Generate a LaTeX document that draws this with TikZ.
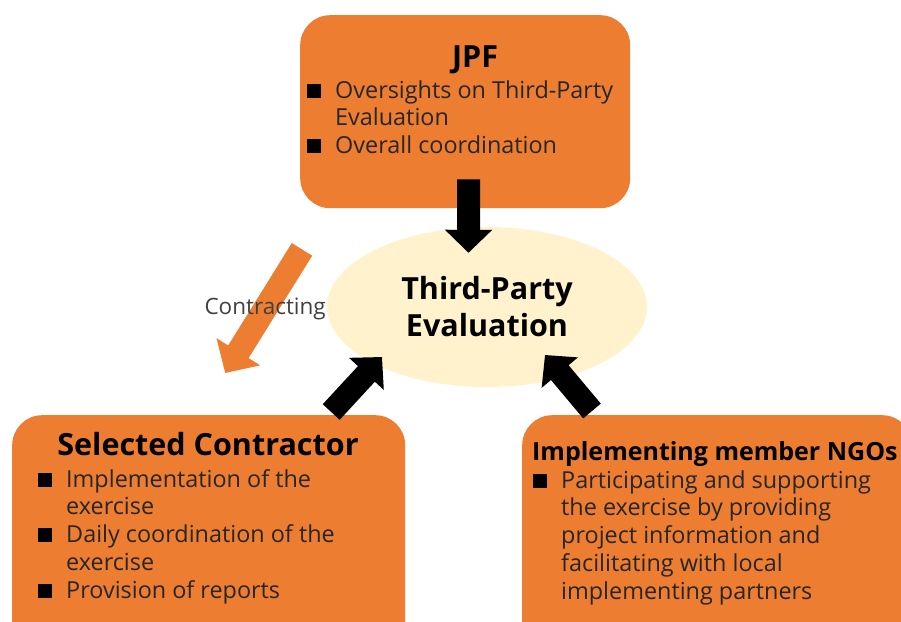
\documentclass[tikz,border=0pt]{standalone}
\usepackage{fontspec}
\setmainfont{Open Sans}
\usetikzlibrary{positioning,shapes.geometric,arrows.meta}

\definecolor{roleorange}{HTML}{ED7D31}
\definecolor{evalcream}{HTML}{FFF2CC}
\definecolor{bodygray}{HTML}{262626}
\definecolor{labelgray}{HTML}{404040}

\newcommand{\sqbullet}{\strut\makebox[28pt][l]{\textcolor{black}{\raisebox{0.5pt}{\rule{14pt}{14pt}}}}}
\newcommand{\sqindent}{\strut\hspace*{28pt}}

\tikzset{
  rolebox/.style={fill=roleorange, rounded corners=30pt, inner sep=0pt, anchor=north west},
  roletitle/.style={font=\bfseries\fontsize{30.5}{36}\selectfont, inner sep=0pt, anchor=base},
  rolelist/.style={font=\fontsize{23.4}{27.8}\selectfont, text=bodygray, align=left, inner sep=0pt, anchor=north west},
  blockarrow/.style={line width=23pt, -{Triangle[length=23pt, width=46pt]}},
  contractarrow/.style={roleorange, line width=24pt, -{Triangle[length=25pt, width=50pt]}}
}

\begin{document}
\begin{tikzpicture}[x=1pt, y=-1pt]
  \path[use as bounding box, clip] (0,0) rectangle (901,621);

  % the three parties
  \node[rolebox, minimum width=330pt, minimum height=193pt] (jpf) at (300,15) {};
  \node[rolebox, minimum width=393pt, minimum height=240pt] (contractor) at (12,415) {};
  \node[rolebox, minimum width=390pt, minimum height=240pt] (ngos) at (522,415) {};

  % the evaluation in the middle
  \node[ellipse, fill=evalcream, minimum width=320pt, minimum height=160pt, inner sep=0pt,
        font=\bfseries\fontsize{30.5}{37}\selectfont, align=center] (eval) at (487,307) {Third-Party\\Evaluation};

  % titles
  \node[roletitle] (jpftitle) at (475,67) {JPF};
  \node[roletitle] (contractortitle) at (208,455) {Selected Contractor};
  \node[roletitle, font=\bfseries\fontsize{25}{28}\selectfont, anchor=base west] (ngostitle) at (532,460) {Implementing member NGOs};

  % tasks
  \node[rolelist] (jpflist) at (307,78.4) {\sqbullet Oversights on Third-Party\\
    \sqindent Evaluation\\
    \sqbullet Overall coordination};
  \node[rolelist] (contractorlist) at (38,467.4) {\sqbullet Implementation of the\\
    \sqindent exercise\\
    \sqbullet Daily coordination of the\\
    \sqindent exercise\\
    \sqbullet Provision of reports};
  \node[rolelist] (ngoslist) at (533,468.4) {\sqbullet Participating and supporting\\
    \sqindent the exercise by providing\\
    \sqindent project information and\\
    \sqindent facilitating with local\\
    \sqindent implementing partners};

  % arrows
  \draw[blockarrow] ([xshift=3.5pt, yshift=29pt]jpf.south) -- ([xshift=-18.5pt, yshift=-26pt]eval.north);
  \draw[blockarrow] ([xshift=122.5pt, yshift=3pt]contractor.north) -- ([xshift=-105pt, yshift=-50pt]eval.center);
  \draw[blockarrow] ([xshift=70pt, yshift=4pt]ngos.north west) -- ([xshift=58pt, yshift=-48pt]eval.center);
  \draw[contractarrow] ([xshift=2pt, yshift=-41pt]jpf.south west) -- ([xshift=16.5pt, yshift=42pt]contractor.north)
    node[pos=0.48, text=labelgray, font=\fontsize{22.5}{26}\selectfont] (contracting) {Contracting};
\end{tikzpicture}
\end{document}
